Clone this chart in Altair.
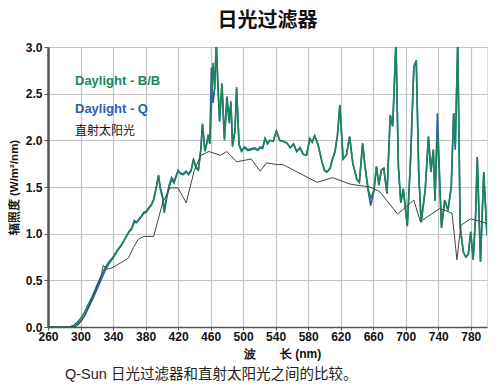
import altair as alt
import pandas as pd

# wavelengths (nm) shared by the two Q-Sun daylight series
wl = [260, 280, 288, 292, 296, 300, 305, 310, 315, 320, 325, 330, 335, 340, 345, 350, 355, 360,
      363, 366, 369, 372, 375, 378, 381, 384, 387, 390, 393, 396, 398, 401, 403, 406, 409, 412,
      415, 418, 420, 423, 426, 430, 433, 436, 439, 442, 445, 448, 450, 453, 455, 457, 459, 461,
      463, 465, 467, 469, 471, 474, 477, 480, 483, 485, 487, 490, 492, 495, 498, 502, 506, 510,
      514, 518, 521, 524, 527, 530, 533, 537, 541, 545, 549, 554, 558, 562, 566, 570, 574, 578,
      582, 585, 588, 592, 597, 600, 603, 607, 610, 613, 616, 619, 623, 627, 631, 635, 640, 643,
      647, 650, 654, 657, 661, 664, 667, 670, 673, 677, 681, 684, 688, 691, 694, 697, 702, 706,
      710, 713, 716, 719, 724, 728, 731, 734, 736, 739, 744, 748, 752, 756, 759, 761, 764, 767,
      771, 774, 777, 780, 783, 786, 788, 792, 796, 800]

daylight_bb = [0, 0, 0.005, 0.02, 0.05, 0.09, 0.16, 0.25, 0.34, 0.44, 0.54, 0.63, 0.70, 0.75, 0.82, 0.88, 0.95, 1.02,
               1.05, 1.12, 1.12, 1.15, 1.18, 1.22, 1.23, 1.27, 1.30, 1.36, 1.48, 1.63, 1.48, 1.38, 1.22, 1.38, 1.50, 1.58,
               1.54, 1.62, 1.68, 1.64, 1.63, 1.66, 1.63, 1.67, 1.80, 1.70, 1.68, 1.90, 2.18, 1.88, 1.95, 2.06, 1.96, 2.35,
               2.83, 2.55, 3.05, 2.60, 2.20, 2.61, 2.00, 2.41, 2.18, 2.42, 1.93, 2.10, 2.57, 1.95, 1.88, 1.92, 1.89, 1.90,
               1.91, 1.89, 1.92, 1.91, 2.02, 1.96, 2.00, 1.99, 2.10, 2.00, 1.99, 1.97, 1.92, 1.96, 1.88, 1.92, 1.85, 1.84,
               2.02, 1.98, 2.05, 1.96, 1.77, 1.68, 1.66, 1.70, 1.80, 1.88, 2.05, 2.38, 1.80, 1.84, 2.04, 1.75, 1.58, 1.55,
               1.97, 1.72, 1.47, 1.38, 1.47, 1.72, 1.52, 1.68, 1.70, 1.43, 2.27, 2.15, 3.05, 1.72, 1.33, 1.48, 1.09, 1.80,
               2.79, 2.86, 1.65, 1.13, 1.47, 2.04, 1.66, 1.90, 1.36, 2.11, 1.07, 1.36, 1.25, 1.50, 2.29, 1.95, 3.05, 1.07,
               0.80, 0.75, 0.78, 1.02, 0.72, 1.20, 1.82, 0.70, 1.66, 0.98]

daylight_q = [0, 0, 0.0, 0.01, 0.03, 0.06, 0.12, 0.21, 0.30, 0.40, 0.50, 0.60, 0.68, 0.74, 0.81, 0.87, 0.95, 1.03,
              1.06, 1.14, 1.12, 1.16, 1.19, 1.23, 1.24, 1.28, 1.31, 1.37, 1.49, 1.62, 1.50, 1.40, 1.25, 1.40, 1.52, 1.60,
              1.56, 1.63, 1.67, 1.65, 1.64, 1.67, 1.64, 1.68, 1.79, 1.71, 1.69, 1.90, 2.17, 1.89, 1.96, 2.05, 1.97, 2.78,
              2.40, 2.55, 3.05, 2.58, 2.21, 2.60, 2.02, 2.47, 2.25, 2.40, 1.95, 2.10, 2.55, 1.96, 1.89, 1.93, 1.90, 1.91,
              1.92, 1.90, 1.93, 1.92, 2.02, 1.97, 2.00, 1.99, 2.10, 2.00, 1.99, 1.97, 1.92, 1.96, 1.88, 1.92, 1.85, 1.84,
              2.02, 1.98, 2.05, 1.96, 1.77, 1.68, 1.66, 1.70, 1.80, 1.88, 2.05, 2.37, 1.80, 1.84, 2.04, 1.75, 1.58, 1.55,
              1.96, 1.72, 1.45, 1.30, 1.46, 1.72, 1.52, 1.68, 1.70, 1.43, 2.27, 2.15, 3.05, 1.72, 1.33, 1.48, 1.08, 1.80,
              2.78, 2.85, 1.65, 1.12, 1.47, 2.04, 1.66, 1.90, 1.35, 2.29, 1.06, 1.36, 1.25, 1.50, 2.29, 1.90, 3.05, 1.07,
              0.80, 0.75, 0.78, 1.02, 0.72, 1.20, 1.82, 0.70, 1.66, 0.98]

# direct sunlight
wl_sun = [260, 290, 295, 300, 305, 310, 315, 320, 325, 328, 333, 338, 344, 352, 359, 365, 371, 378, 390,
          401, 410, 420, 430, 440, 448, 458, 472, 480, 492, 510, 521, 529, 541, 549, 591, 610, 632, 656,
          668, 690, 710, 718, 742, 757, 763, 768, 780, 800]
sun = [0, 0, 0.005, 0.05, 0.12, 0.22, 0.32, 0.43, 0.53, 0.66, 0.62, 0.63, 0.66, 0.70, 0.74, 0.85, 0.94, 0.97, 0.97,
       1.33, 1.49, 1.49, 1.33, 1.68, 1.84, 1.88, 1.84, 1.88, 1.77, 1.80, 1.67, 1.76, 1.74, 1.74, 1.55, 1.60, 1.53, 1.50,
       1.45, 1.21, 1.36, 1.13, 1.27, 1.22, 0.72, 1.09, 1.16, 1.11]

x_ticks = list(range(260, 781, 40))
y_ticks = [0, 0.5, 1.0, 1.5, 2.0, 2.5, 3.0]
legend_labels = ["Daylight - B/B", "Daylight - Q", "直射太阳光"]
caption = "Q-Sun 日光过滤器和直射太阳光之间的比较。"

GREEN = "#1d8559"
BLUE = "#2b5ea8"
BLACK = "#444444"
FONT = "Liberation Sans, Noto Sans CJK SC"
GRID = "#c4c4c4"

df_bb = pd.DataFrame({"wl": wl, "v": daylight_bb})
df_q = pd.DataFrame({"wl": wl, "v": daylight_q})
df_sun = pd.DataFrame({"wl": wl_sun, "v": sun})

xscale = alt.Scale(domain=[260, 800], nice=False, zero=False)
yscale = alt.Scale(domain=[0, 3], nice=False)

xaxis = alt.Axis(values=x_ticks, title="波　　长 (nm)", labelFontWeight="bold", labelFontSize=12,
                 labelColor="#111", titleFontSize=12, titleFontWeight="bold", titleColor="#111",
                 domainColor="#555", domainWidth=1.5, tickColor="#555", tickSize=3,
                 grid=True, gridColor=GRID, gridWidth=1.2, labelPadding=1, titlePadding=6, titleX=234,
                 labelOverlap=False, labelFlush=False)
yaxis = alt.Axis(values=y_ticks, format=".1f", title="辐照度 (W/m²/nm)", labelFontWeight="bold",
                 labelFontSize=12, labelColor="#111", titleFontSize=11.5, titleFontWeight="bold",
                 titleColor="#111", domainColor="#555", domainWidth=2.5, tickColor="#555", tickSize=4,
                 grid=True, gridColor=GRID, gridWidth=1.2, labelPadding=2, titlePadding=6,
                 labelOverlap=False, labelFlush=False)

q_line = alt.Chart(df_q).mark_line(color=BLUE, strokeWidth=1.6, clip=True).encode(
    x=alt.X("wl:Q", scale=xscale, axis=xaxis),
    y=alt.Y("v:Q", scale=yscale, axis=yaxis),
)
bb_line = alt.Chart(df_bb).mark_line(color=GREEN, strokeWidth=1.6, clip=True).encode(
    x=alt.X("wl:Q", scale=xscale, axis=xaxis), y=alt.Y("v:Q", scale=yscale, axis=yaxis)
)
sun_line = alt.Chart(df_sun).mark_line(color=BLACK, strokeWidth=1, clip=True).encode(
    x=alt.X("wl:Q", scale=xscale, axis=xaxis), y=alt.Y("v:Q", scale=yscale, axis=yaxis)
)

lab1 = alt.Chart(pd.DataFrame({"t": [legend_labels[0]]})).mark_text(
    align="left", baseline="middle", fontSize=13, fontWeight="bold", font=FONT, color=GREEN
).encode(text="t:N", x=alt.value(27), y=alt.value(34))
lab2 = alt.Chart(pd.DataFrame({"t": [legend_labels[1]]})).mark_text(
    align="left", baseline="middle", fontSize=13, fontWeight="bold", font=FONT, color=BLUE
).encode(text="t:N", x=alt.value(27), y=alt.value(62))
lab3 = alt.Chart(pd.DataFrame({"t": [legend_labels[2]]})).mark_text(
    align="left", baseline="middle", fontSize=12, font=FONT, color="#111"
).encode(text="t:N", x=alt.value(27), y=alt.value(84))
cap = alt.Chart(pd.DataFrame({"t": [caption]})).mark_text(
    align="left", baseline="middle", fontSize=14.5, font=FONT, color="#222"
).encode(text="t:N", x=alt.value(17), y=alt.value(328))

chart = alt.layer(q_line, bb_line, sun_line, lab1, lab2, lab3, cap).properties(
    width=439, height=280,
    title=alt.TitleParams("日光过滤器", fontSize=20, fontWeight="bold", font=FONT, anchor="middle",
                          color="#111", offset=10),
    autosize=alt.AutoSizeParams(type="none"),
    padding={"left": 40, "top": 39, "right": 5, "bottom": 62},
).configure_view(stroke=GRID, strokeWidth=1.2).configure_axis(
    labelFont=FONT, titleFont=FONT, grid=True
).configure(background="white")

chart.save("out.html", embed_options={"renderer": "svg", "actions": False})
